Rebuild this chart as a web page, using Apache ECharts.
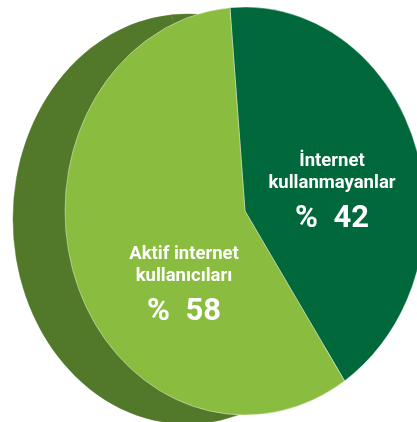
<!DOCTYPE html>
<html>
<head>
<meta charset="utf-8">
<style>
  html, body { margin: 0; padding: 0; background: #ffffff; }
  #chart { width: 417px; height: 422px; }
</style>
<script src="https://cdn.jsdelivr.net/npm/echarts@6/dist/echarts.min.js"></script>
</head>
<body>
<div id="chart"></div>
<script>
// ---- data ----
const categories = ['İnternet\nkullanmayanlar', 'Aktif internet\nkullanıcıları'];
const values = [42, 58];
const valuePrefix = '%  ';

// ---- style / layout ----
const sliceColors = ['#00683A', '#8ABD3F'];
const depthColor = '#52782A';
const FRONT = { cx: 245, cy: 211, rx: 180, ry: 204 };
const BACK = { cx: 187, cy: 219, rx: 174, ry: 205 };
const START_DEG = -94.8; // screen angle of first slice start (clockwise from 3 o'clock)
const labelAnchors = [[332, 197], [184, 290]];

const total = values.reduce((a, b) => a + b, 0);
function sliceAngles(i) {
  let acc = 0;
  for (let k = 0; k < i; k++) acc += values[k];
  const s = START_DEG * Math.PI / 180 + acc / total * Math.PI * 2;
  const e = s + values[i] / total * Math.PI * 2;
  return [s, e];
}

const chart = echarts.init(document.getElementById('chart'), null, { renderer: 'canvas' });
chart.setOption({
  animation: false,
  backgroundColor: '#ffffff',
  series: [
    {
      type: 'custom',
      name: 'depth',
      coordinateSystem: 'none',
      data: values,
      z: 1,
      renderItem: function (params, api) {
        const i = params.dataIndex;
        const [s, e] = sliceAngles(i);
        return {
          type: 'sector',
          x: BACK.cx, y: BACK.cy,
          scaleX: BACK.rx / BACK.ry,
          shape: { cx: 0, cy: 0, r: BACK.ry, r0: 0, startAngle: s, endAngle: e, clockwise: true },
          style: { fill: depthColor, stroke: depthColor, lineWidth: 0.5 }
        };
      }
    },
    {
      type: 'custom',
      name: 'front',
      coordinateSystem: 'none',
      data: values,
      z: 2,
      renderItem: function (params, api) {
        const i = params.dataIndex;
        const v = api.value(0);
        const [s, e] = sliceAngles(i);
        return {
          type: 'group',
          children: [
            {
              type: 'sector',
              x: FRONT.cx, y: FRONT.cy,
              scaleX: FRONT.rx / FRONT.ry,
              shape: { cx: 0, cy: 0, r: FRONT.ry, r0: 0, startAngle: s, endAngle: e, clockwise: true },
              style: { fill: sliceColors[i], stroke: 'rgba(255,255,255,0.55)', lineWidth: 0.8, strokeNoScale: true }
            },
            {
              type: 'text',
              x: labelAnchors[i][0], y: labelAnchors[i][1],
              z2: 10,
              style: {
                text: '{name|' + categories[i].split('\n').join('}\n{name|') + '}\n{val|' + valuePrefix + v + '}',
                align: 'center',
                verticalAlign: 'middle',
                fill: '#ffffff',
                rich: {
                  name: { fontFamily: 'Roboto', fontWeight: 'bold', fontSize: 18.5, lineHeight: 22, fill: '#ffffff', align: 'center' },
                  val: { fontFamily: 'Roboto', fontWeight: 'bold', fontSize: 31, lineHeight: 50, fill: '#ffffff', align: 'center' }
                }
              }
            }
          ]
        };
      }
    }
  ]
});
</script>
</body>
</html>
